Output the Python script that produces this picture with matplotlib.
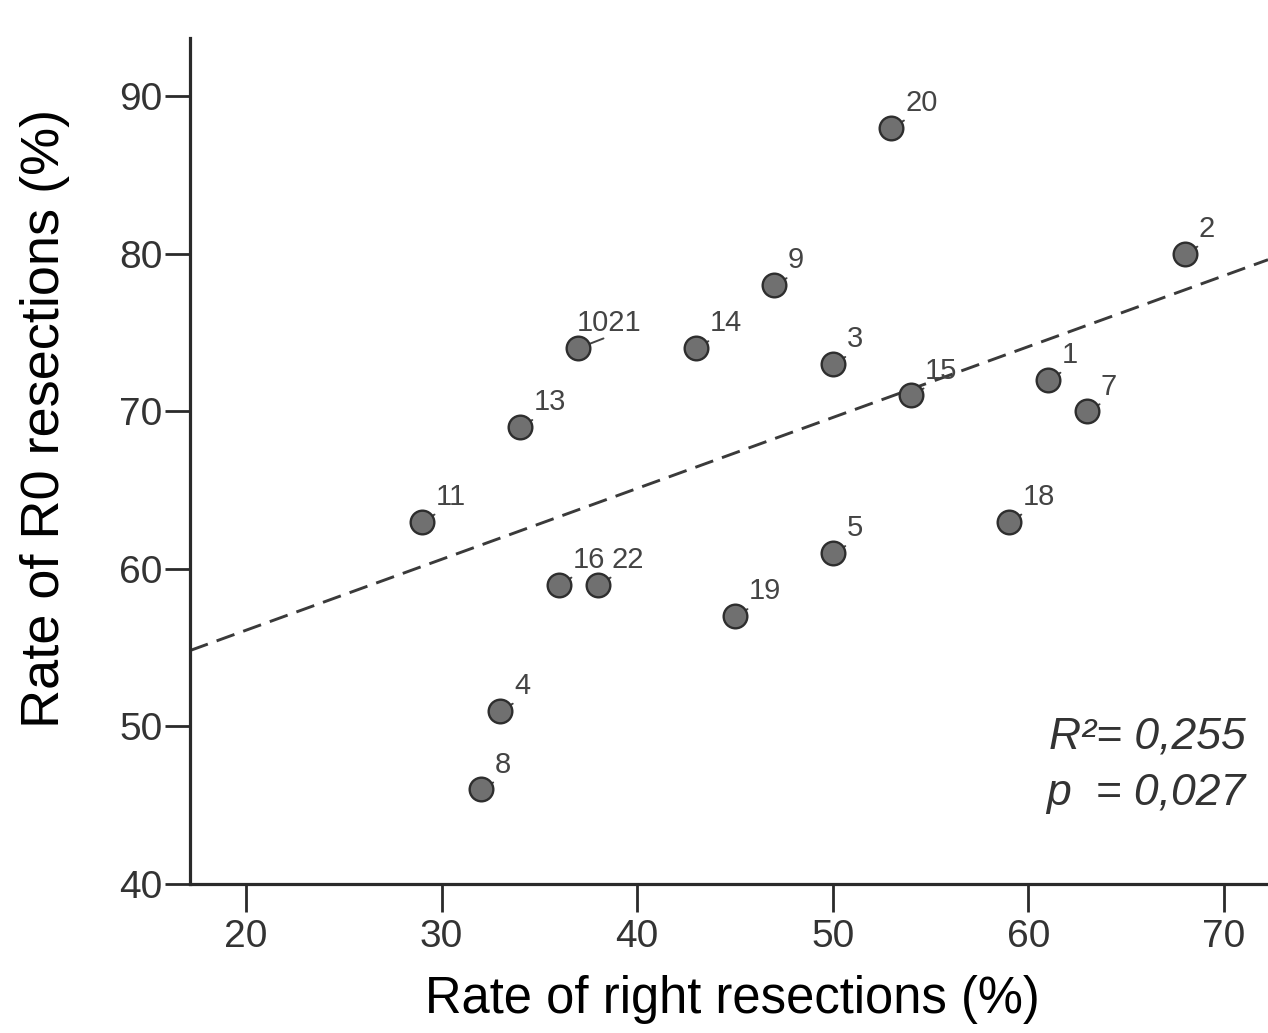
import matplotlib
matplotlib.use("Agg")
import matplotlib.pyplot as plt
import numpy as np

plt.rcParams['font.family'] = ['Liberation Sans', 'DejaVu Sans']

# Data
labels = ["20", "2", "9", "1021", "14", "3", "15", "1", "7", "13", "11",
          "18", "5", "16", "22", "19", "4", "8"]
right_rate = [53, 68, 47, 37, 43, 50, 54, 61, 63, 34, 29, 59, 50, 36, 38, 45, 33, 32]
r0_rate = [88, 80, 78, 74, 74, 73, 71, 72, 70, 69, 63, 63, 61, 59, 59, 57, 51, 46]
fit_intercept = 47.1
fit_slope = 0.45
xticks = [20, 30, 40, 50, 60, 70]
yticks = [40, 50, 60, 70, 80, 90]
r2_text = "R²= 0,255"
p_text = "p  = 0,027"

W, H = 1268, 1033
fig = plt.figure(figsize=(W / 100, H / 100), dpi=100)
ax = fig.add_axes([190 / W, 149 / H, 1078 / W, 846 / H])
xmin, xmax = 17.14, 72.25
ax.set_xlim(xmin, xmax)
ax.set_ylim(40, 93.68)

# regression line
xl = np.array([xmin, xmax])
ax.plot(xl, fit_intercept + fit_slope * xl, color="#3a3a3a", lw=2.1,
        dashes=(6.5, 3.2), zorder=2, clip_on=True)

ax.scatter(right_rate, r0_rate, s=290, facecolor="#707070", edgecolor="#2e2e2e",
           linewidths=1.7, zorder=4, clip_on=False)

for lab, x, y in zip(labels, right_rate, r0_rate):
    if lab == "1021":
        off = (-1, 12)
        tgt = (18, 7)
        ax.annotate(lab, (x, y), xytext=off, textcoords="offset points",
                    fontsize=21, color="#444444", ha="left", va="baseline",
                    zorder=5)
        ax.annotate("", (x, y), xytext=tgt, textcoords="offset points",
                    arrowprops=dict(arrowstyle="-", color="#444444", lw=1.4,
                                    shrinkA=0, shrinkB=0), zorder=3)
    else:
        ax.annotate(lab, (x, y), xytext=(10, 12), textcoords="offset points",
                    fontsize=21, color="#444444", ha="left", va="baseline",
                    zorder=5)
        ax.annotate("", (x, y), xytext=(9, 5), textcoords="offset points",
                    arrowprops=dict(arrowstyle="-", color="#444444", lw=1.4,
                                    shrinkA=0, shrinkB=0), zorder=3)

for s in ["top", "right"]:
    ax.spines[s].set_visible(False)
for s in ["left", "bottom"]:
    ax.spines[s].set_linewidth(2.3)
    ax.spines[s].set_color("#2a2a2a")

ax.set_xticks(xticks)
ax.set_yticks(yticks)
ax.tick_params(axis="x", direction="out", length=20, width=2, color="#2a2a2a",
               labelsize=28, labelcolor="#333333", pad=5)
ax.tick_params(axis="y", direction="out", length=18, width=2, color="#2a2a2a",
               labelsize=28, labelcolor="#333333", pad=2)

ax.text(0.979, 1 - (748 - 38) / 846, r2_text, transform=ax.transAxes,
        fontsize=32, style="italic", color="#333333", ha="right", va="baseline")
ax.text(0.979, 1 - (805 - 38) / 846, p_text, transform=ax.transAxes,
        fontsize=32, style="italic", color="#333333", ha="right", va="baseline")

fig.text(732 / W, 1 - 1000 / H, "Rate of right resections (%)", fontsize=36.5,
         ha="center", va="center", color="black")
fig.text(45 / W, 1 - 418 / H, "Rate of R0 resections (%)", fontsize=39,
         ha="center", va="center", rotation=90, color="black")

fig.savefig("out.png", dpi=100)
